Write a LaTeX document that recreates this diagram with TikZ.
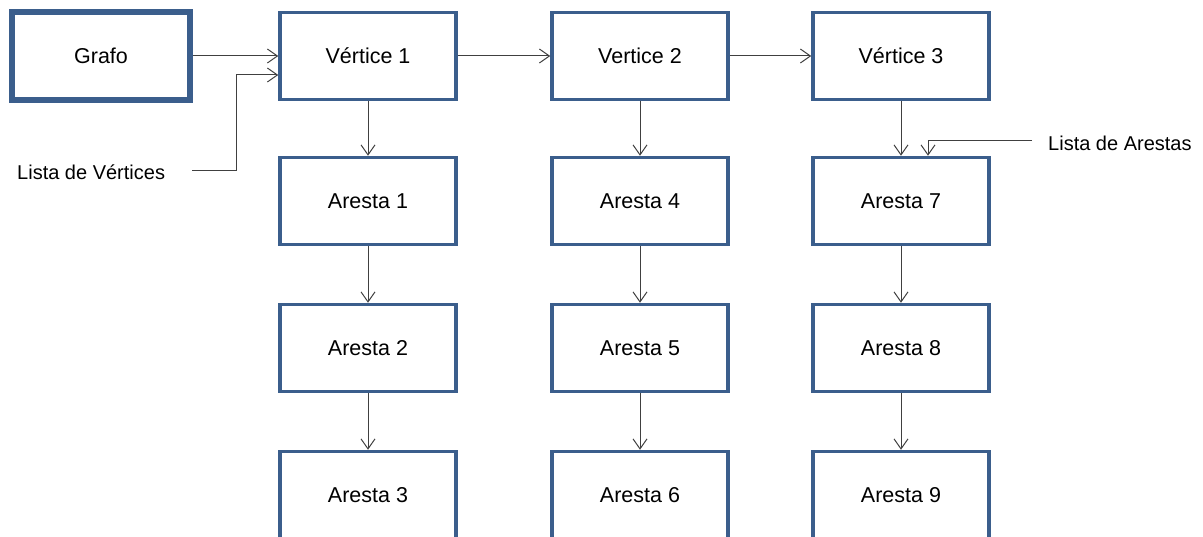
\documentclass[tikz,border=0pt]{standalone}
\usepackage{fontspec}
\setmainfont{Liberation Sans}
\usetikzlibrary{arrows.meta}
\definecolor{boxblue}{RGB}{59,94,140}
\tikzset{
  box/.style={draw=boxblue, line width=3.5pt, fill=white, minimum width=176pt, minimum height=87pt, inner sep=0pt, font=\fontsize{21.5}{25}\selectfont},
  bigbox/.style={box, line width=5.5pt, minimum width=178pt, minimum height=88pt},
  conn/.style={draw=black!75, line width=1pt, -{Straight Barb[length=10pt,width=14pt]}},
  lbl/.style={font=\fontsize{20}{24}\selectfont, inner sep=0pt}
}
\begin{document}
\begin{tikzpicture}[x=1pt,y=-1pt]
\useasboundingbox (0,0) rectangle (1203,537);
\node[bigbox] (g) at (101,56) {Grafo};
\node[box] (v1) at (368,56) {Vértice 1};
\node[box] (v2) at (640,56) {Vertice 2};
\node[box] (v3) at (901,56) {Vértice 3};
\node[box] (a1) at (368,201) {Aresta 1};
\node[box] (a2) at (368,348) {Aresta 2};
\node[box] (a3) at (368,495) {Aresta 3};
\node[box] (a4) at (640,201) {Aresta 4};
\node[box] (a5) at (640,348) {Aresta 5};
\node[box] (a6) at (640,495) {Aresta 6};
\node[box] (a7) at (901,201) {Aresta 7};
\node[box] (a8) at (901,348) {Aresta 8};
\node[box] (a9) at (901,495) {Aresta 9};
\node[lbl, anchor=west] (lv) at (17,172) {Lista de Vértices};
\node[lbl, anchor=west] (la) at (1048,143) {Lista de Arestas};
\coordinate (lvs) at (192,171);
\coordinate (las) at (1032,141);
\draw[conn] (g.east |- 0,56) -- (v1.west |- 0,56);
\draw[conn] (v1.east |- 0,56) -- (v2.west |- 0,56);
\draw[conn] (v2.east |- 0,56) -- (v3.west |- 0,56);
\draw[conn] (lvs) -- (236,171) -- (236,75) -- (v1.west |- 0,75);
\draw[conn] (las) -- (928,141) -- (a7.north -| 928,0);
\foreach \a/\b in {v1/a1,a1/a2,a2/a3,v2/a4,a4/a5,a5/a6,v3/a7,a7/a8,a8/a9}
  \draw[conn] (\a.south) -- (\b.north);
\end{tikzpicture}
\end{document}
